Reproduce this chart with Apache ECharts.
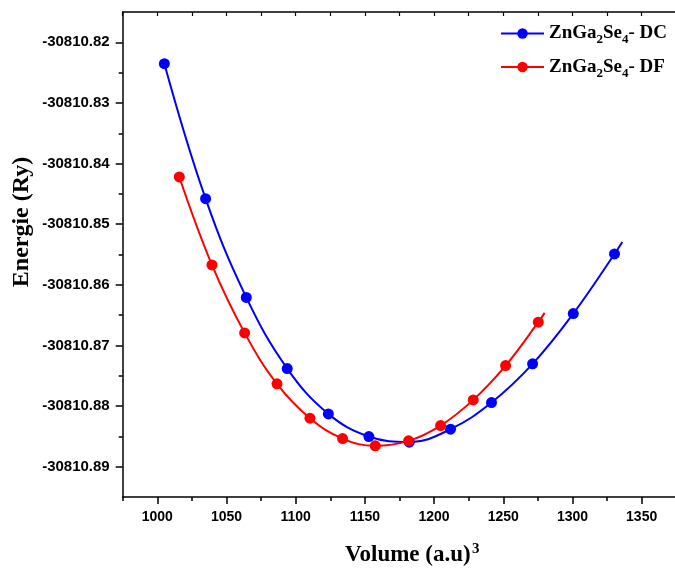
<!DOCTYPE html>
<html>
<head>
<meta charset="utf-8">
<title>ZnGa2Se4 Energie - Volume</title>
<script src="https://cdn.jsdelivr.net/npm/echarts@6/dist/echarts.min.js"></script>
<style>
  html, body { margin: 0; padding: 0; background: #ffffff; }
  #chart { width: 675px; height: 569px; }
</style>
</head>
<body>
<div id="chart"></div>
<script>
// ZnGa2Se4 - DC : volume (a.u)^3 and total energy (Ry)
const dcVolume = [1005.1, 1034.9, 1064.3, 1093.9, 1123.6, 1152.9, 1182.1, 1211.9, 1241.5, 1271.2, 1300.6, 1330.4];
const dcEnergy = [-30810.82353, -30810.84579, -30810.86208, -30810.87382, -30810.88129, -30810.88503,
                  -30810.88595, -30810.88381, -30810.87942, -30810.87304, -30810.86475, -30810.85491];
// end of the fitted DC curve, past the last computed point
const dcCurveEnd = [1336.0, -30810.85293];

// ZnGa2Se4 - DF : volume (a.u)^3 and total energy (Ry)
const dfVolume = [1015.9, 1039.5, 1063.1, 1086.5, 1110.3, 1133.9, 1157.5, 1181.6, 1204.7, 1228.3, 1251.7, 1275.3];
const dfEnergy = [-30810.84221, -30810.85672, -30810.86793, -30810.87634, -30810.88200, -30810.88536,
                  -30810.88656, -30810.88574, -30810.88322, -30810.87898, -30810.87332, -30810.86617];
// end of the fitted DF curve, past the last computed point
const dfCurveEnd = [1279.9, -30810.86463];

// axis ticks
const xTickLabels = [1000, 1050, 1100, 1150, 1200, 1250, 1300, 1350];
const xMinorTicks = [975, 1025, 1075, 1125, 1175, 1225, 1275, 1325];
const yTickLabels = [-30810.89, -30810.88, -30810.87, -30810.86, -30810.85, -30810.84, -30810.83, -30810.82];
const yMinorTicks = [-30810.885, -30810.875, -30810.865, -30810.855, -30810.845, -30810.835, -30810.825];

const seriesNames = ['ZnGa2Se4 - DC', 'ZnGa2Se4 - DF'];
const legendRich = {
  'ZnGa2Se4 - DC': '{t|ZnGa}{s|2}{t|Se}{s|4}{t|- DC}',
  'ZnGa2Se4 - DF': '{t|ZnGa}{s|2}{t|Se}{s|4}{t|- DF}'
};

function pointsWithEnd(xs, ys, end) {
  const pts = xs.map((x, i) => [x, ys[i]]);
  pts.push({ value: end, symbol: 'none' });
  return pts;
}

// the plot area runs on past the right edge of the page
const X_MIN = 975, X_MAX = 1374.1;
const Y_MIN = -30810.895, Y_MAX = -30810.815;

const axisColor = '#000000';
const tickFont = { fontFamily: 'Liberation Sans, Arial, sans-serif', fontWeight: 'bold', color: '#000000' };
const serifBold = '"Liberation Serif", "Times New Roman", serif';

const chart = echarts.init(document.getElementById('chart'), null, { renderer: 'canvas' });

chart.setOption({
  animation: false,
  backgroundColor: '#ffffff',
  grid: { left: 122.7, top: 12, right: 0, height: 485, containLabel: false, outerBoundsMode: 'none' },
  legend: {
    orient: 'vertical',
    left: 500,
    top: 24,
    padding: 0,
    itemGap: 11,
    itemWidth: 43,
    itemHeight: 13,
    data: seriesNames,
    formatter: name => legendRich[name],
    textStyle: {
      rich: {
        t: { fontFamily: serifBold, fontWeight: 'bold', fontSize: 19, lineHeight: 26, color: '#000000' },
        s: { fontFamily: serifBold, fontWeight: 'bold', fontSize: 13, lineHeight: 13, verticalAlign: 'bottom', color: '#000000' }
      }
    }
  },
  xAxis: [
    {
      type: 'value', position: 'bottom', min: X_MIN, max: X_MAX,
      axisLine: { show: true, lineStyle: { color: axisColor, width: 1.5 } },
      axisTick: { show: true, inside: false, length: 7, customValues: xTickLabels, lineStyle: { color: axisColor, width: 1.5 } },
      axisLabel: { show: true, margin: 13, fontSize: 14, ...tickFont, customValues: xTickLabels, formatter: v => String(Math.round(v)) },
      splitLine: { show: false }
    },
    {
      // minor ticks on the bottom axis
      type: 'value', position: 'bottom', min: X_MIN, max: X_MAX,
      axisLine: { show: false },
      axisTick: { show: true, inside: false, length: 4, customValues: xMinorTicks, lineStyle: { color: axisColor, width: 1.5 } },
      axisLabel: { show: false },
      splitLine: { show: false }
    },
    {
      // top frame with inward ticks
      type: 'value', position: 'top', min: X_MIN, max: X_MAX,
      axisLine: { show: true, lineStyle: { color: axisColor, width: 1.5 } },
      axisTick: { show: true, inside: true, length: 4, customValues: xTickLabels.concat(xMinorTicks), lineStyle: { color: axisColor, width: 1.2 } },
      axisLabel: { show: false },
      splitLine: { show: false }
    }
  ],
  yAxis: [
    {
      type: 'value', position: 'left', min: Y_MIN, max: Y_MAX, scale: true,
      axisLine: { show: true, lineStyle: { color: axisColor, width: 1.5 } },
      axisTick: { show: true, inside: false, length: 7, customValues: yTickLabels, lineStyle: { color: axisColor, width: 1.5 } },
      axisLabel: { show: true, margin: 13, fontSize: 15, ...tickFont, customValues: yTickLabels, formatter: v => v.toFixed(2) },
      splitLine: { show: false }
    },
    {
      // minor ticks on the left axis
      type: 'value', position: 'left', min: Y_MIN, max: Y_MAX, scale: true,
      axisLine: { show: false },
      axisTick: { show: true, inside: false, length: 4, customValues: yMinorTicks, lineStyle: { color: axisColor, width: 1.5 } },
      axisLabel: { show: false },
      splitLine: { show: false }
    }
  ],
  graphic: [
    {
      type: 'text', x: 22, y: 222, rotation: Math.PI / 2,
      style: {
        text: 'Energie (Ry)', fill: '#000000',
        font: 'bold 24px ' + serifBold,
        textAlign: 'center', textVerticalAlign: 'middle'
      }
    },
    {
      type: 'text', x: 345, y: 555.5,
      style: {
        text: 'Volume (a.u)', fill: '#000000',
        font: 'bold 23px ' + serifBold,
        textAlign: 'left', textVerticalAlign: 'middle'
      }
    },
    {
      type: 'text', x: 472, y: 549.5,
      style: {
        text: '3', fill: '#000000',
        font: 'bold 15px ' + serifBold,
        textAlign: 'left', textVerticalAlign: 'middle'
      }
    }
  ],
  series: [
    {
      name: seriesNames[0], type: 'line', xAxisIndex: 0, yAxisIndex: 0,
      data: pointsWithEnd(dcVolume, dcEnergy, dcCurveEnd),
      smooth: 0.4,
      symbol: 'circle', symbolSize: 11,
      lineStyle: { color: '#0000ff', width: 2 },
      itemStyle: { color: '#0000ff' },
      emphasis: { disabled: true }
    },
    {
      name: seriesNames[1], type: 'line', xAxisIndex: 0, yAxisIndex: 0,
      data: pointsWithEnd(dfVolume, dfEnergy, dfCurveEnd),
      smooth: 0.4,
      symbol: 'circle', symbolSize: 11,
      lineStyle: { color: '#ff0000', width: 2 },
      itemStyle: { color: '#ff0000' },
      emphasis: { disabled: true }
    }
  ]
});
</script>
</body>
</html>
